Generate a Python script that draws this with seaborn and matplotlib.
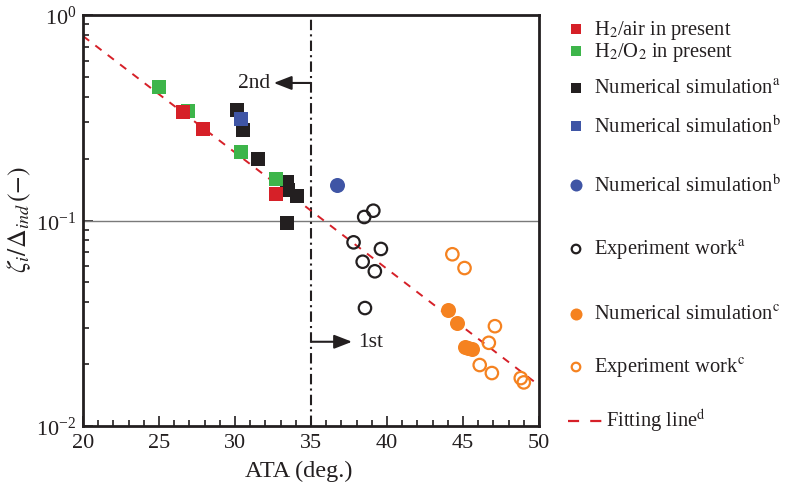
import numpy as np
import pandas as pd
import matplotlib
matplotlib.use("Agg")
import matplotlib.pyplot as plt
import seaborn as sns
from matplotlib.ticker import MultipleLocator, LogLocator, NullFormatter

# data (ATA in degrees, zeta_i / Delta_ind)
h2air_x = [26.6, 27.9, 32.7]
h2air_y = [0.339, 0.279, 0.134]
h2o2_x = [25.0, 26.9, 30.4, 32.7]
h2o2_y = [0.445, 0.342, 0.215, 0.159]
numa_x = [30.15, 30.55, 31.5, 33.4, 33.5, 34.1, 33.4]
numa_y = [0.345, 0.277, 0.199, 0.154, 0.141, 0.131, 0.0976]
numb_sq_x = [30.4]
numb_sq_y = [0.312]
numb_ci_x = [36.7]
numb_ci_y = [0.149]
expa_x = [39.1, 38.5, 37.8, 39.6, 38.4, 39.2, 38.55]
expa_y = [0.1116, 0.104, 0.0783, 0.0727, 0.063, 0.0566, 0.0375]
numc_x = [44.0, 44.6, 45.1, 45.3, 45.6]
numc_y = [0.0368, 0.0317, 0.0241, 0.0239, 0.0237]
expc_x = [44.3, 45.1, 47.1, 46.7, 46.1, 46.9, 48.8, 49.0]
expc_y = [0.0685, 0.0587, 0.0306, 0.0254, 0.0198, 0.0181, 0.0171, 0.0163]
fit_x = [20.0, 49.7]
fit_y = [0.79, 0.0164]

RED = "#d62028"
GREEN = "#3db54a"
BLACK = "#231f20"
BLUE = "#3f55a5"
ORANGE = "#f58220"

sns.set_theme(style="ticks")
plt.rcParams["font.family"] = ["Liberation Serif", "DejaVu Serif"]
plt.rcParams["mathtext.fontset"] = "stix"
plt.rcParams["axes.unicode_minus"] = True

fig = plt.figure(figsize=(7.88, 4.89), dpi=100)
ax = fig.add_axes([83 / 788, 1 - 427 / 489, 456 / 788, 411 / 489])

# reference lines
ax.axhline(0.1, color="#7a7a7a", lw=1.0, zorder=1)
ax.axvline(35, color=BLACK, lw=1.5, dashes=(5, 2, 1, 2), zorder=1)
sns.lineplot(x=fit_x, y=fit_y, ax=ax, color=RED, lw=1.4, dashes=False, zorder=2)
ax.lines[-1].set_dashes((4, 4))

def pts(x, y, marker, color, s, hollow=False):
    if hollow:
        sns.scatterplot(x=x, y=y, ax=ax, marker=marker, s=s, facecolor="none",
                        edgecolor=color, linewidth=1.6, zorder=3)
    else:
        sns.scatterplot(x=x, y=y, ax=ax, marker=marker, s=s, color=color,
                        linewidth=0, zorder=3)

pts(numa_x, numa_y, "s", BLACK, 88)
pts(h2o2_x, h2o2_y, "s", GREEN, 88)
pts(h2air_x, h2air_y, "s", RED, 88)
pts(numb_sq_x, numb_sq_y, "s", BLUE, 88)
pts(numb_ci_x, numb_ci_y, "o", BLUE, 117)
pts(expa_x, expa_y, "o", BLACK, 80, hollow=True)
pts(numc_x, numc_y, "o", ORANGE, 117)
pts(expc_x, expc_y, "o", ORANGE, 80, hollow=True)

# arrows and labels
arrow = dict(arrowstyle="-|>,head_length=0.9,head_width=0.35", color=BLACK,
             lw=1.5, shrinkA=0, shrinkB=0)
ax.annotate("", xy=(32.55, 0.467), xytext=(35, 0.467), arrowprops=arrow)
ax.text(32.3, 0.467, "2nd", ha="right", va="center", fontsize=15.5, color=BLACK)
ax.annotate("", xy=(37.7, 0.0257), xytext=(35, 0.0257), arrowprops=arrow)
ax.text(38.1, 0.0257, "1st", ha="left", va="center", fontsize=15.5, color=BLACK)

ax.set_yscale("log")
ax.set_xlim(20, 50)
ax.set_ylim(0.01, 1)
ax.xaxis.set_major_locator(MultipleLocator(5))
ax.xaxis.set_minor_locator(MultipleLocator(1))
ax.yaxis.set_major_locator(LogLocator(base=10))
ax.yaxis.set_minor_locator(LogLocator(base=10, subs=np.arange(2, 10)))
ax.yaxis.set_minor_formatter(NullFormatter())
ax.tick_params(which="both", direction="in", top=False, right=False,
               labelsize=16, colors=BLACK, width=1.2, pad=5)
ax.tick_params(which="major", length=7)
ax.tick_params(which="minor", length=4)
for sp in ax.spines.values():
    sp.set_visible(True)
    sp.set_linewidth(2)
    sp.set_color(BLACK)
ax.set_xlabel("ATA (deg.)", fontsize=17.5, color=BLACK)
ax.set_ylabel(r"$\zeta_i/\Delta_{ind}\,(-)$", fontsize=18.5, color=BLACK)
ax.xaxis.set_label_coords(0.474, -0.083)
ax.yaxis.set_label_coords(-0.11, 0.505)

# legend drawn by hand in figure pixel space
lax = fig.add_axes([0, 0, 1, 1])
lax.set_xlim(0, 788)
lax.set_ylim(489, 0)
lax.axis("off")
entries = [
    ("s", RED, False, 30, r"H$_2$/air in present"),
    ("s", GREEN, False, 52, r"H$_2$/O$_2$ in present"),
    ("s", BLACK, False, 89, r"Numerical simulation$^{\mathrm{a}}$"),
    ("s", BLUE, False, 127, r"Numerical simulation$^{\mathrm{b}}$"),
    ("o", BLUE, False, 186, r"Numerical simulation$^{\mathrm{b}}$"),
    ("o", BLACK, True, 250, r"Experiment work$^{\mathrm{a}}$"),
    ("o", ORANGE, False, 315, r"Numerical simulation$^{\mathrm{c}}$"),
    ("o", ORANGE, True, 368, r"Experiment work$^{\mathrm{c}}$"),
]
for m, c, hollow, yy, lab in entries:
    if hollow:
        lax.scatter([576], [yy], marker=m, s=38, facecolor="none", edgecolor=c, linewidths=1.6)
    else:
        lax.scatter([576], [yy], marker=m, s=45 if m == "s" else 75, color=c, linewidths=0)
    lax.text(594, yy, lab, ha="left", va="center", fontsize=14.8, color=BLACK)
lax.plot([568, 602], [422, 422], color=RED, lw=1.6, dashes=(5, 5))
lax.text(606, 420, r"Fitting line$^{\mathrm{d}}$", ha="left", va="center", fontsize=14.8, color=BLACK)

fig.savefig("out.png", dpi=100)
